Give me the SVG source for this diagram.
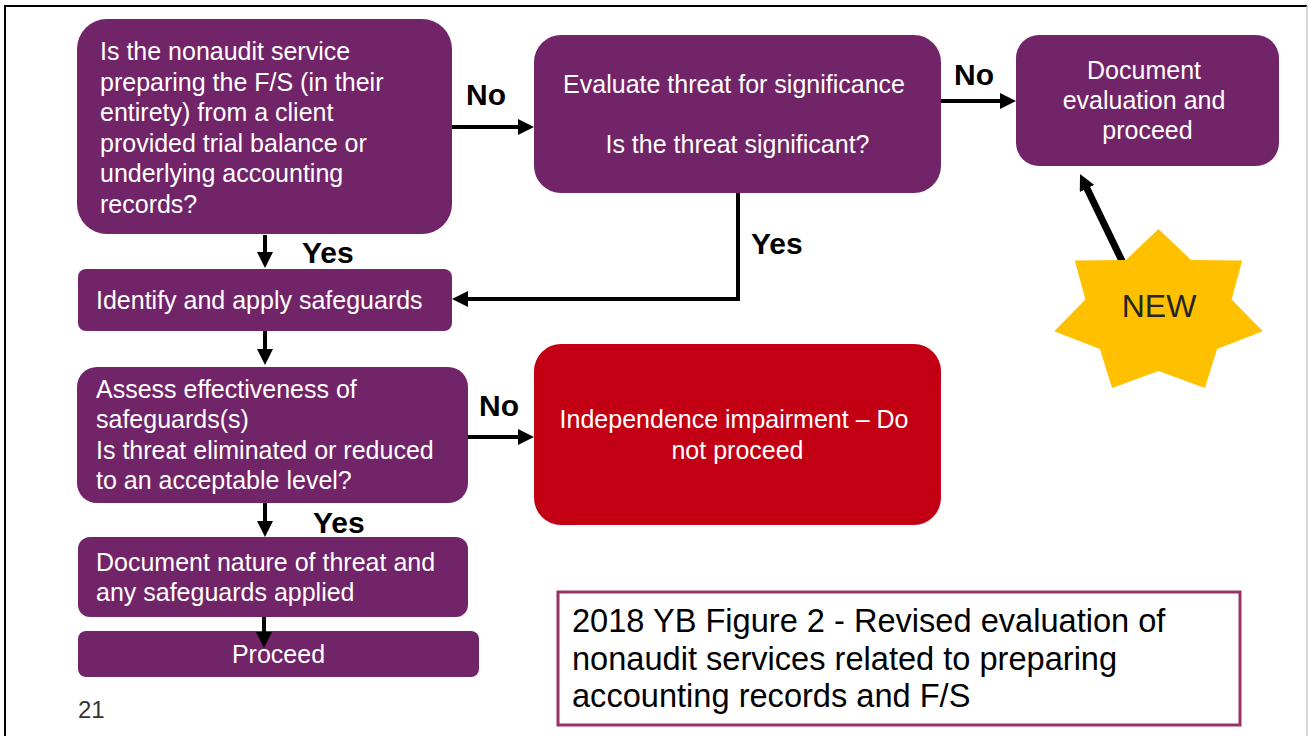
<svg xmlns="http://www.w3.org/2000/svg" width="1310" height="736" viewBox="0 0 1310 736">
  <defs>
    <style>
      .box { fill: #722469; }
      .stop { fill: #C30013; }
      .txt { font-family: "Liberation Sans", Arial, sans-serif; font-size: 25px; fill: #FFFFFF; }
      .mid { text-anchor: middle; }
      .lbl { font-family: "Liberation Sans", Arial, sans-serif; font-size: 30px; font-weight: bold; fill: #000000; }
      .conn { fill: none; stroke: #000000; stroke-width: 4; }
      .thick { fill: none; stroke: #000000; stroke-width: 7; }
      .cap { font-family: "Liberation Sans", Arial, sans-serif; font-size: 32.6px; fill: #000000; }
    </style>
    <marker id="arrow" viewBox="0 0 16 16" refX="8" refY="8" markerWidth="16" markerHeight="16" markerUnits="userSpaceOnUse" orient="auto">
      <path d="M0,0 L16,8 L0,16 z" fill="#000000"/>
    </marker>
  </defs>

  <!-- slide frame -->
  <rect x="0" y="0" width="1310" height="736" fill="#FFFFFF"/>
  <path d="M5,736 V6 H1307" fill="none" stroke="#000000" stroke-width="2"/>
  <line x1="1307" y1="6" x2="1307" y2="736" stroke="#C8C8C8" stroke-width="1.5"/>

  <!-- connectors -->
  <g id="connectors">
    <path class="conn" d="M452,127 H526" marker-end="url(#arrow)"/>
    <path class="conn" d="M941,101 H1008" marker-end="url(#arrow)"/>
    <path class="conn" d="M738,193 V299 H460" marker-end="url(#arrow)"/>
    <path class="conn" d="M265,235 V260" marker-end="url(#arrow)"/>
    <path class="conn" d="M265,331 V357" marker-end="url(#arrow)"/>
    <path class="conn" d="M468,437 H526" marker-end="url(#arrow)"/>
    <path class="conn" d="M265,503 V529" marker-end="url(#arrow)"/>
    <path class="thick" d="M1123,263 L1083.5,181.2" marker-end="url(#arrow)"/>
    <text class="lbl" x="466" y="105">No</text>
    <text class="lbl" x="954" y="85">No</text>
    <text class="lbl" x="302" y="263">Yes</text>
    <text class="lbl" x="751" y="254">Yes</text>
    <text class="lbl" x="479" y="416">No</text>
    <text class="lbl" x="313" y="533">Yes</text>
  </g>

  <g id="q-prepare">
    <rect class="box" x="77" y="19" width="375" height="215" rx="30"/>
    <text class="txt">
      <tspan x="100" y="60">Is the nonaudit service</tspan>
      <tspan x="100" y="91">preparing the F/S (in their</tspan>
      <tspan x="100" y="121">entirety) from a client</tspan>
      <tspan x="100" y="152">provided trial balance or</tspan>
      <tspan x="100" y="182">underlying accounting</tspan>
      <tspan x="100" y="213">records?</tspan>
    </text>
  </g>

  <g id="q-significance">
    <rect class="box" x="534" y="35" width="407" height="158" rx="27"/>
    <text class="txt mid">
      <tspan x="737.5" y="93">Evaluate threat for significance</tspan>
      <tspan x="737.5" y="153">Is the threat significant?</tspan>
    </text>
  </g>

  <g id="document-evaluation">
    <rect class="box" x="1016" y="35" width="263" height="131" rx="23"/>
    <text class="txt mid">
      <tspan x="1147.5" y="79">Document</tspan>
      <tspan x="1147.5" y="109">evaluation and</tspan>
      <tspan x="1147.5" y="139">proceed</tspan>
    </text>
  </g>

  <g id="new-badge">
    <polygon fill="#FFC000" points="1158.5,229 1191,259.9 1242.2,260.5 1231.6,299.6 1262.8,331.2 1217.1,349.1 1204.9,387.9 1158.5,371.1 1112.1,387.9 1099.9,349.1 1054.2,331.2 1085.4,299.6 1074.8,260.5 1126,259.9"/>
    <text x="1159" y="317" text-anchor="middle" font-family="Liberation Sans, Arial, sans-serif" font-size="32" fill="#262626">NEW</text>
  </g>

  <g id="apply-safeguards">
    <rect class="box" x="78" y="269" width="374" height="62" rx="8"/>
    <text class="txt" x="96" y="309">Identify and apply safeguards</text>
  </g>

  <g id="q-effective">
    <rect class="box" x="77" y="367" width="391" height="136" rx="20"/>
    <text class="txt">
      <tspan x="96" y="398">Assess effectiveness of</tspan>
      <tspan x="96" y="428">safeguards(s)</tspan>
      <tspan x="96" y="459">Is threat eliminated or reduced</tspan>
      <tspan x="96" y="489">to an acceptable level?</tspan>
    </text>
  </g>

  <g id="impairment">
    <rect class="stop" x="534" y="344" width="407" height="181" rx="27"/>
    <text class="txt mid">
      <tspan x="737.5" y="428">Independence impairment – Do</tspan>
      <tspan x="737.5" y="459">not proceed</tspan>
    </text>
  </g>

  <g id="document-threat">
    <rect class="box" x="78" y="537" width="390" height="80" rx="12"/>
    <text class="txt">
      <tspan x="96" y="571">Document nature of threat and</tspan>
      <tspan x="96" y="601">any safeguards applied</tspan>
    </text>
  </g>

  <g id="proceed">
    <rect class="box" x="78" y="631" width="401" height="46" rx="8"/>
    <text class="txt mid" x="278.5" y="663">Proceed</text>
  </g>

  <!-- arrow drawn over the Proceed bar -->
  <path class="conn" d="M264,617 V640" marker-end="url(#arrow)"/>

  <g id="caption">
    <rect x="558" y="592" width="682" height="133" fill="#FFFFFF" stroke="#993366" stroke-width="3"/>
    <text class="cap">
      <tspan x="572" y="632">2018 YB Figure 2 - Revised evaluation of</tspan>
      <tspan x="572" y="670">nonaudit services related to preparing</tspan>
      <tspan x="572" y="707">accounting records and F/S</tspan>
    </text>
  </g>

  <text x="78" y="718" font-family="Liberation Sans, Arial, sans-serif" font-size="24" fill="#333333">21</text>
</svg>
